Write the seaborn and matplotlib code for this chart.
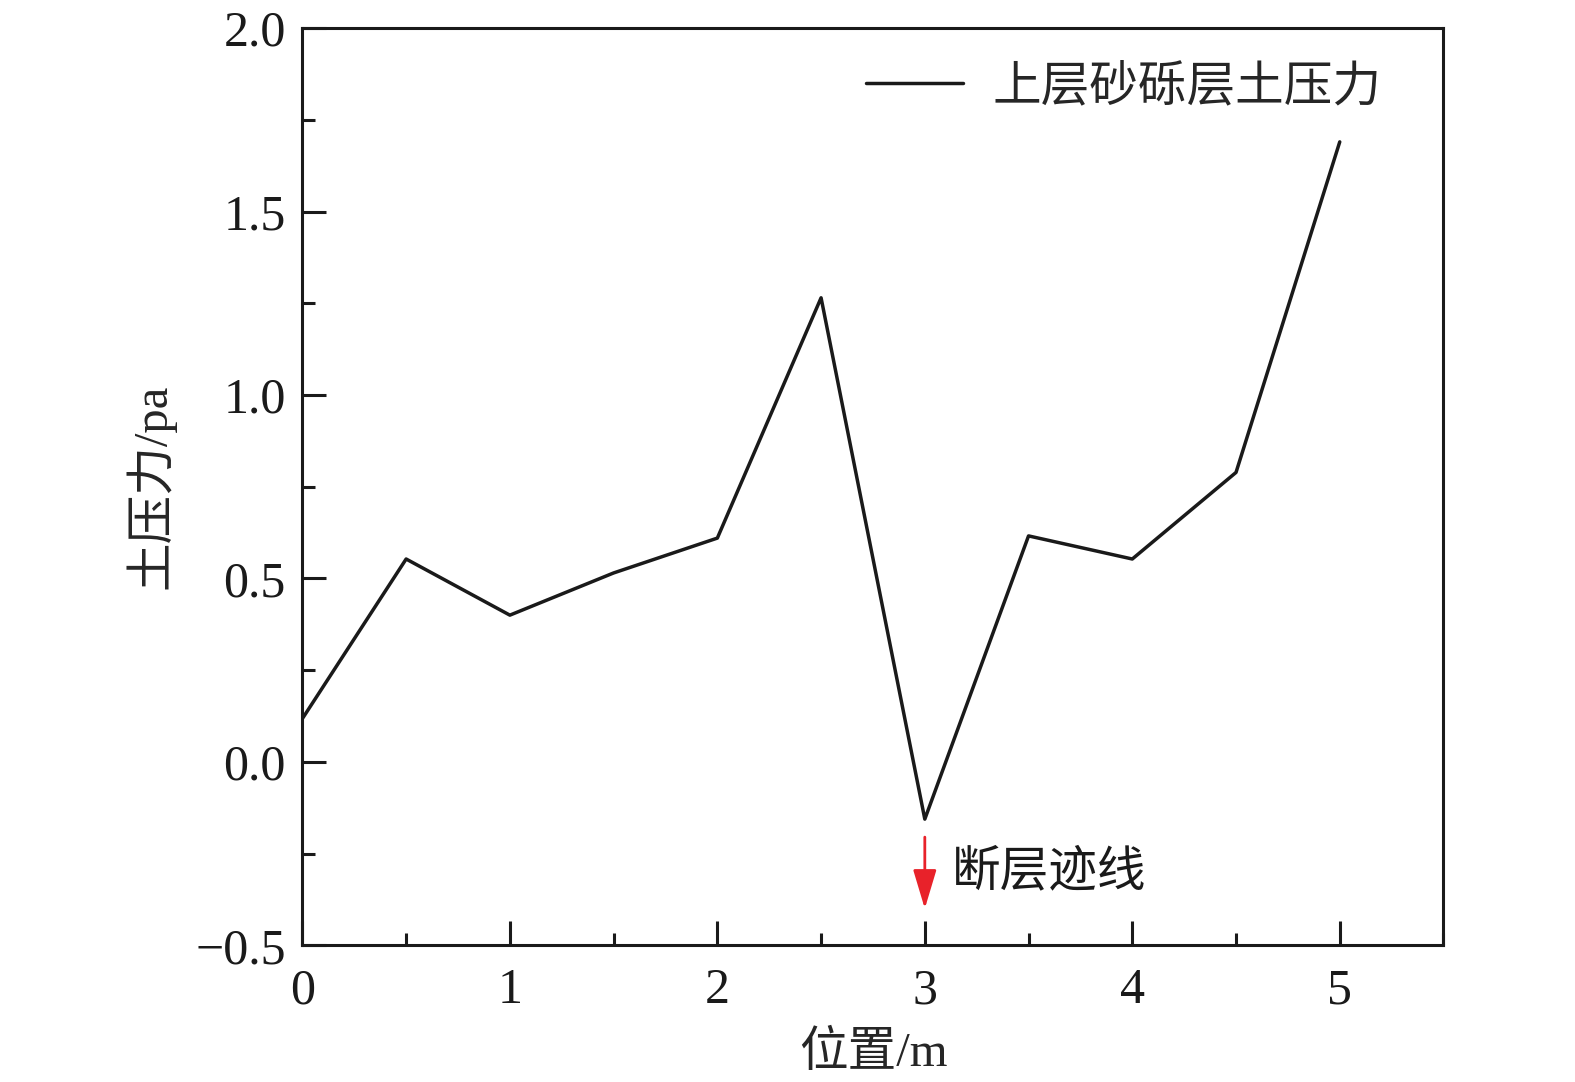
import numpy as np
import pandas as pd
import matplotlib
matplotlib.use('Agg')
import matplotlib.pyplot as plt
import seaborn as sns
from matplotlib.ticker import MultipleLocator

# 数据
position = [0, 0.5, 1.0, 1.5, 2.0, 2.5, 3.0, 3.5, 4.0, 4.5, 5.0]
pressure = [0.118, 0.553, 0.40, 0.515, 0.61, 1.265, -0.156, 0.616, 0.553, 0.789, 1.69]
series_name = '上层砂砾层土压力'
fault_x = 3.0
fault_label = '断层迹线'

sns.set_theme(style='ticks')
plt.rcParams['font.family'] = ['Liberation Serif', 'Noto Sans CJK SC']
plt.rcParams['axes.unicode_minus'] = True

df = pd.DataFrame({'x': position, 'y': pressure})

fig = plt.figure(figsize=(15.75, 10.82), dpi=100)
ax = fig.add_axes([0.192, 0.1263, 0.7245, 0.8477])

sns.lineplot(data=df, x='x', y='y', ax=ax, color='#1a1a1a', linewidth=2.5,
             label=series_name)

ax.set_xlim(0, 5.5)
ax.set_ylim(-0.5, 2.0)
ax.xaxis.set_major_locator(MultipleLocator(1))
ax.xaxis.set_minor_locator(MultipleLocator(0.5))
ax.yaxis.set_major_locator(MultipleLocator(0.5))
ax.yaxis.set_minor_locator(MultipleLocator(0.25))
ax.set_yticks([-0.5, 0.0, 0.5, 1.0, 1.5, 2.0])
ax.set_yticklabels(['\u22120.5', '0.0', '0.5', '1.0', '1.5', '2.0'])

ax.tick_params(which='both', direction='in', top=False, right=False,
               labelsize=36, width=2.2, colors='#1a1a1a')
ax.tick_params(axis='y', which='both', pad=12)
ax.tick_params(axis='x', which='both', pad=16)
ax.tick_params(which='major', length=17)
ax.tick_params(which='minor', length=9)

for sp in ax.spines.values():
    sp.set_linewidth(2.2)
    sp.set_color('#1a1a1a')

ax.set_xlabel('位置/m', fontsize=35, labelpad=12)
ax.set_ylabel('土压力/pa', fontsize=35, labelpad=14)

leg = ax.legend(loc='upper right', fontsize=35, frameon=False,
                handlelength=2.0, handletextpad=0.6,
                bbox_to_anchor=(0.984, 1.008))

# 断层迹线箭头
ax.annotate('', xy=(fault_x, -0.40), xytext=(fault_x, -0.205),
            arrowprops=dict(arrowstyle='-|>,head_length=2.0,head_width=0.6',
                            color='#e8222a', lw=2.0, shrinkA=0, shrinkB=0))
ax.text(fault_x + 0.13, -0.30, fault_label, fontsize=35, va='center',
        ha='left', color='#1a1a1a')

plt.savefig('out.png', dpi=100)
